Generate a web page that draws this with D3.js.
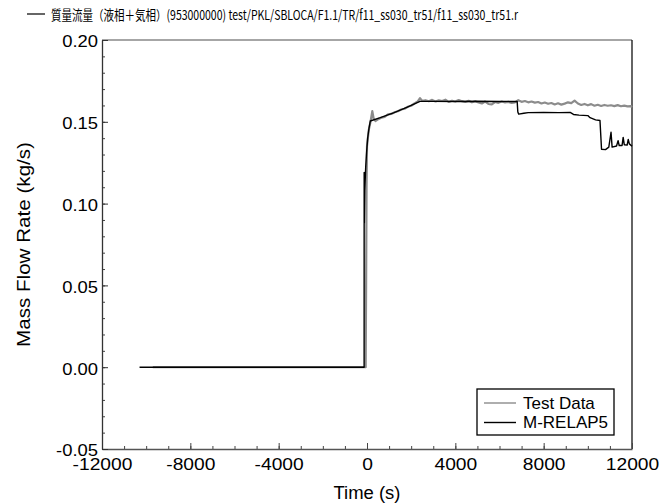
<!DOCTYPE html>
<html>
<head>
<meta charset="utf-8">
<script src="https://cdn.jsdelivr.net/npm/d3@7"></script>
<style>
  html, body { margin: 0; padding: 0; background: #fff; }
  svg { display: block; }
  text { font-family: "Liberation Sans", Arial, sans-serif; fill: #000; }
</style>
</head>
<body>
<svg id="chart" width="662" height="504"></svg>
<script>
// Header and axis text
const titleText = "質量流量（液相＋気相）(953000000) test/PKL/SBLOCA/F1.1/TR/f11_ss030_tr51/f11_ss030_tr51.r";
const xTitle = "Time (s)";
const yTitle = "Mass Flow Rate (kg/s)";
const seriesNames = ["Test Data", "M-RELAP5"];

// Axis ticks
const xTicks = [-12000, -8000, -4000, 0, 4000, 8000, 12000];
const xMinorTicks = d3.range(-12000, 12001, 1000);
const yTicks = [-0.05, 0.00, 0.05, 0.10, 0.15, 0.20];
const yMinorTicks = d3.range(-50, 201, 10).map(v => v / 1000);

// Test Data series (time s, mass flow kg/s)
const testTime = [-9700, -60, -40, -20, 0, 80, 160, 240, 300, 380, 500, 650, 800, 950, 1100, 1250, 1400, 1550, 1700, 1850,
  2000, 2150, 2300, 2400, 2500, 2650, 2800, 2950, 3100, 3250, 3400, 3550, 3700, 3850, 4000, 4150, 4300, 4450, 4600, 4750,
  4900, 5050, 5200, 5350, 5500, 5650, 5800, 5950, 6100, 6250, 6400, 6550, 6700, 6850, 7000, 7150, 7300, 7450, 7600, 7750,
  7900, 8050, 8200, 8350, 8500, 8650, 8800, 8950, 9100, 9250, 9400, 9550, 9700, 9850, 10000, 10150, 10300, 10450, 10600, 10750,
  10900, 11050, 11200, 11350, 11500, 11650, 11800, 11950, 12000];
const testFlow = [0, 0, 0.05, 0.11, 0.135, 0.145, 0.150, 0.1565, 0.152, 0.1505, 0.1515, 0.1525, 0.153, 0.1545, 0.1548, 0.1558, 0.1565, 0.1575, 0.158, 0.1592,
  0.1598, 0.1612, 0.1625, 0.1645, 0.1628, 0.1632, 0.1626, 0.1634, 0.1624, 0.1631, 0.1627, 0.1635, 0.1622, 0.1629, 0.1624, 0.1633, 0.1626, 0.1621, 0.1628, 0.1619,
  0.1626, 0.1618, 0.1612, 0.1624, 0.1609, 0.1606, 0.1621, 0.1616, 0.1624, 0.1618, 0.1622, 0.1615, 0.1619, 0.1632, 0.1622, 0.1627, 0.1619, 0.1624, 0.1617, 0.1621,
  0.1612, 0.1618, 0.1610, 0.1615, 0.1606, 0.1613, 0.1605, 0.1611, 0.1619, 0.1614, 0.1629, 0.1612, 0.1603, 0.1609, 0.1601, 0.1608, 0.1598, 0.1604, 0.1597, 0.1603,
  0.1598, 0.1601, 0.1596, 0.1602, 0.1595, 0.1599, 0.1594, 0.1596, 0.1590];

// M-RELAP5 series (time s, mass flow kg/s)
const calcTime = [-10300, -130, -128, -120, -100, -60, -20, 30, 90, 150, 600, 1200, 1800, 2400, 3000, 4000, 5000, 6000, 6800, 6830,
  6870, 7100, 7300, 8000, 8700, 9200, 9350, 9600, 10000, 10100, 10350, 10550, 10620, 10800, 10950, 11050, 11100, 11300, 11370, 11420,
  11550, 11600, 11650, 11780, 11830, 11880, 12000];
const calcFlow = [0, 0, 0.119, 0.088, 0.108, 0.122, 0.131, 0.140, 0.146, 0.1505, 0.1525, 0.1555, 0.1588, 0.1625, 0.1625, 0.1624, 0.1626, 0.1624, 0.1625, 0.1560,
  0.1547, 0.1552, 0.1556, 0.1557, 0.1556, 0.1557, 0.1545, 0.1541, 0.1538, 0.1525, 0.1512, 0.1508, 0.1332, 0.1330, 0.1345, 0.1436, 0.1345, 0.1352, 0.1385, 0.1355,
  0.1355, 0.1405, 0.1360, 0.1358, 0.1392, 0.1365, 0.1350];

const svg = d3.select("#chart");
const plot = { left: 102, right: 632, top: 40, bottom: 449 };

const x = d3.scaleLinear().domain([-12000, 12000]).range([plot.left, plot.right]);
const y = d3.scaleLinear().domain([-0.05, 0.20]).range([plot.bottom, plot.top]);

// plain ASCII hyphen for negative tick labels
const fmtX = v => d3.format("d")(v).replace("\u2212", "-");
const fmtY = v => d3.format(".2f")(v).replace("\u2212", "-");

// stretch a text element horizontally to a given factor of its natural width
function stretch(sel, factor) {
  sel.each(function () {
    const w = this.getComputedTextLength();
    d3.select(this).attr("textLength", w * factor).attr("lengthAdjust", "spacingAndGlyphs");
  });
}

// Frame: top and right edges
svg.append("line").attr("x1", plot.left).attr("x2", plot.right).attr("y1", plot.top).attr("y2", plot.top)
  .attr("stroke", "#888").attr("stroke-width", 1.3);
svg.append("line").attr("x1", plot.right).attr("x2", plot.right).attr("y1", plot.top).attr("y2", plot.bottom)
  .attr("stroke", "#111").attr("stroke-width", 1.3);

// Minor ticks
svg.append("g").attr("transform", `translate(0,${plot.bottom})`)
  .call(d3.axisBottom(x).tickValues(xMinorTicks).tickSize(-3).tickFormat(""))
  .call(g => g.select(".domain").remove())
  .call(g => g.selectAll("line").attr("stroke", "#444"));
svg.append("g").attr("transform", `translate(${plot.left},0)`)
  .call(d3.axisLeft(y).tickValues(yMinorTicks).tickSize(-3).tickFormat(""))
  .call(g => g.select(".domain").remove())
  .call(g => g.selectAll("line").attr("stroke", "#444"));

// Major axes
const xAxis = svg.append("g").attr("transform", `translate(0,${plot.bottom})`)
  .call(d3.axisBottom(x).tickValues(xTicks).tickSize(-6).tickSizeOuter(0).tickPadding(0).tickFormat(fmtX));
xAxis.select(".domain").attr("stroke", "#555").attr("stroke-width", 1.5);
xAxis.selectAll("line").attr("stroke", "#444");
xAxis.selectAll("text").attr("y", 21).attr("dy", null)
  .style("font-size", "16px").style("font-family", "Liberation Sans, Arial, sans-serif").attr("fill", "#000")
  .call(stretch, 1.2);

const yAxis = svg.append("g").attr("transform", `translate(${plot.left},0)`)
  .call(d3.axisLeft(y).tickValues(yTicks).tickSize(-6).tickSizeOuter(0).tickPadding(0).tickFormat(fmtY));
yAxis.select(".domain").attr("stroke", "#333").attr("stroke-width", 1.3);
yAxis.selectAll("line").attr("stroke", "#333");
yAxis.selectAll("text").attr("x", -4).attr("dy", "0.43em")
  .style("font-size", "16px").style("font-family", "Liberation Sans, Arial, sans-serif").attr("fill", "#000")
  .call(stretch, 1.15);

// Series lines
const line = d3.line().x(d => x(d[0])).y(d => y(d[1]));
const testData = testTime.map((t, i) => [t, testFlow[i]]);
const calcData = calcTime.map((t, i) => [t, calcFlow[i]]);

svg.append("path").datum(testData).attr("d", line)
  .attr("fill", "none").attr("stroke", "#8c8c8c").attr("stroke-width", 2.2).attr("stroke-linejoin", "round");
svg.append("path").datum(calcData).attr("d", line)
  .attr("fill", "none").attr("stroke", "#000").attr("stroke-width", 1.4).attr("stroke-linejoin", "round");

// Axis titles
svg.append("text").attr("x", (plot.left + plot.right) / 2).attr("y", 499)
  .attr("text-anchor", "middle").style("font-size", "18px").text(xTitle)
  .attr("textLength", 67).attr("lengthAdjust", "spacingAndGlyphs");
svg.append("text").attr("transform", `translate(30,${(plot.top + plot.bottom) / 2}) rotate(-90)`)
  .attr("text-anchor", "middle").style("font-size", "18px").text(yTitle)
  .attr("textLength", 205).attr("lengthAdjust", "spacingAndGlyphs");

// Header line with series key
svg.append("line").attr("x1", 27).attr("x2", 45).attr("y1", 14).attr("y2", 14)
  .attr("stroke", "#000").attr("stroke-width", 1.2);
svg.append("text").attr("x", 51).attr("y", 19.5)
  .style("font-family", "'Noto Sans CJK JP', sans-serif").style("font-size", "13.5px")
  .attr("textLength", 467).attr("lengthAdjust", "spacingAndGlyphs").text(titleText);

// Legend
const legend = svg.append("g");
legend.append("rect").attr("x", 477).attr("y", 389).attr("width", 137).attr("height", 46)
  .attr("fill", "#fff").attr("stroke", "#000").attr("stroke-width", 1.3);
const legendColors = ["#8c8c8c", "#000"];
const legendY = [403, 422.5];
seriesNames.forEach((name, i) => {
  legend.append("line").attr("x1", 484).attr("x2", 516).attr("y1", legendY[i]).attr("y2", legendY[i])
    .attr("stroke", legendColors[i]).attr("stroke-width", 1.4);
  legend.append("text").attr("x", 523).attr("y", legendY[i] + 5.5)
    .style("font-size", "17px").text(name);
});
</script>
</body>
</html>
